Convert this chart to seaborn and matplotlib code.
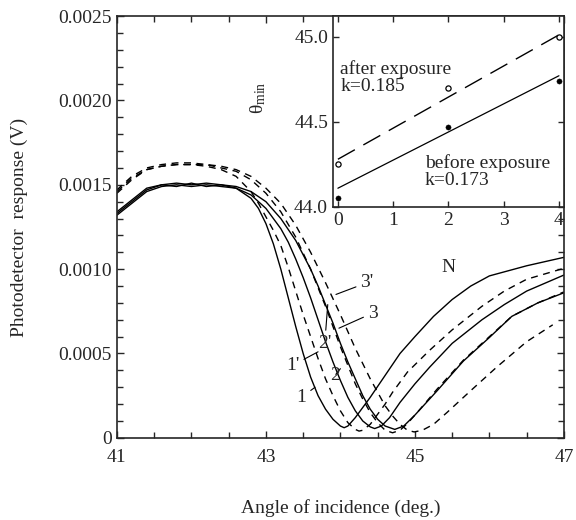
import numpy as np
import pandas as pd
import matplotlib
matplotlib.use("Agg")
import matplotlib.pyplot as plt
from matplotlib.ticker import MultipleLocator, FixedLocator, FuncFormatter
import seaborn as sns

# SPR curves: angle of incidence (deg) and photodetector response (units of 1e-4 V)
x_1 = [41.0, 41.2, 41.4, 41.6, 41.8, 42.0, 42.2, 42.4, 42.6, 42.8, 42.9, 43.0, 43.1, 43.2, 43.3, 43.4, 43.5, 43.6,
       43.7, 43.8, 43.9, 44.0, 44.05, 44.1, 44.2, 44.3, 44.4, 44.6, 44.8, 45.0, 45.25, 45.5, 45.75, 46.0, 46.5, 47.0]
y_1 = [13.3, 14.0, 14.7, 15.0, 14.9, 15.1, 14.9, 15.0, 14.8, 14.2, 13.6, 12.7, 11.5, 10.0, 8.3, 6.6, 5.0, 3.6,
       2.5, 1.7, 1.1, 0.7, 0.6, 0.7, 1.2, 1.8, 2.4, 3.7, 5.0, 6.0, 7.2, 8.2, 9.0, 9.6, 10.2, 10.7]

x_1p = [41.0, 41.2, 41.4, 41.6, 41.8, 42.0, 42.2, 42.4, 42.6, 42.8, 42.9, 43.0, 43.1, 43.2, 43.3, 43.4, 43.5, 43.6,
        43.7, 43.8, 43.9, 44.0, 44.1, 44.2, 44.25, 44.3, 44.4, 44.5, 44.6, 44.7, 44.9, 45.2, 45.5, 45.9, 46.2, 46.5, 47.0]
y_1p = [14.6, 15.4, 15.9, 16.1, 16.2, 16.2, 16.1, 15.9, 15.5, 14.6, 13.9, 13.1, 12.3, 11.4, 10.1, 8.7, 7.3, 6.0,
        4.7, 3.5, 2.5, 1.6, 0.9, 0.5, 0.4, 0.45, 0.8, 1.4, 2.0, 2.7, 3.9, 5.2, 6.4, 7.8, 8.7, 9.4, 10.05]

x_2 = [41.0, 41.2, 41.4, 41.6, 41.8, 42.0, 42.2, 42.4, 42.6, 42.8, 43.0, 43.2, 43.3, 43.4, 43.5, 43.6, 43.7, 43.8,
       43.9, 44.0, 44.1, 44.2, 44.3, 44.4, 44.46, 44.55, 44.66, 44.8, 45.0, 45.2, 45.5, 45.9, 46.2, 46.5, 47.0]
y_2 = [13.2, 13.9, 14.6, 14.9, 15.0, 14.9, 15.0, 14.9, 14.8, 14.4, 13.6, 12.4, 11.6, 10.6, 9.5, 8.3, 7.0, 5.7,
       4.5, 3.4, 2.4, 1.6, 1.0, 0.65, 0.55, 0.7, 1.2, 2.1, 3.2, 4.2, 5.6, 7.0, 7.9, 8.7, 9.65]

x_2p = [41.0, 41.2, 41.4, 41.6, 41.8, 42.0, 42.2, 42.4, 42.6, 42.8, 43.0, 43.2, 43.4, 43.6, 43.7, 43.8, 43.9, 44.0,
        44.1, 44.2, 44.3, 44.4, 44.5, 44.6, 44.7, 44.8, 44.9, 45.05, 45.3, 45.65, 46.0, 46.3, 46.65, 47.0]
y_2p = [14.5, 15.3, 15.9, 16.1, 16.2, 16.2, 16.2, 16.0, 15.8, 15.3, 14.5, 13.4, 11.9, 10.0, 8.9, 7.8, 6.6, 5.4,
        4.3, 3.2, 2.3, 1.5, 0.9, 0.45, 0.3, 0.45, 0.85, 1.6, 2.9, 4.6, 6.0, 7.2, 8.0, 8.65]

x_3 = [41.0, 41.2, 41.4, 41.6, 41.8, 42.0, 42.2, 42.4, 42.6, 42.8, 43.0, 43.2, 43.4, 43.6, 43.7, 43.8, 43.9, 44.0,
       44.1, 44.2, 44.3, 44.4, 44.5, 44.6, 44.73, 44.85, 45.0, 45.3, 45.65, 46.0, 46.3, 46.65, 47.0]
y_3 = [13.4, 14.1, 14.8, 15.0, 15.1, 15.0, 15.1, 15.0, 14.9, 14.6, 14.0, 13.0, 11.7, 10.0, 9.0, 7.9, 6.8, 5.6,
       4.5, 3.5, 2.5, 1.7, 1.1, 0.7, 0.5, 0.7, 1.35, 2.8, 4.55, 5.95, 7.2, 8.0, 8.6]

x_3p = [41.0, 41.2, 41.4, 41.6, 41.8, 42.0, 42.2, 42.4, 42.6, 42.8, 43.0, 43.2, 43.4, 43.6, 43.8, 44.0, 44.2, 44.4,
        44.6, 44.7, 44.8, 44.9, 44.99, 45.1, 45.25, 45.43, 45.75, 46.1, 46.5, 46.85]
y_3p = [14.7, 15.5, 16.0, 16.2, 16.3, 16.3, 16.2, 16.1, 15.9, 15.5, 14.8, 13.9, 12.6, 11.0, 9.2, 7.3, 5.3, 3.5,
        1.9, 1.3, 0.8, 0.45, 0.35, 0.45, 0.8, 1.5, 2.8, 4.2, 5.7, 6.7]

# inset: minimum angle vs N
n_vals = [0, 2, 4]
theta_before = [44.05, 44.47, 44.74]
theta_after = [44.25, 44.70, 45.00]
fit_n = [0, 4]
fit_before = [44.11, 44.77]
fit_after = [44.28, 45.01]

sns.set_style("ticks")
plt.rcParams['font.family'] = ['Liberation Serif', 'DejaVu Serif']
plt.rcParams['mathtext.fontset'] = 'custom'
plt.rcParams['mathtext.rm'] = 'Liberation Serif'
plt.rcParams['font.size'] = 14

fig = plt.figure(figsize=(5.76, 5.2), dpi=100)
ax = fig.add_axes([0.203, 0.158, 0.776, 0.811])

dash = (0, (5, 4))
curves = [(x_1, y_1, '-'), (x_1p, y_1p, dash), (x_2, y_2, '-'),
          (x_2p, y_2p, dash), (x_3, y_3, '-'), (x_3p, y_3p, dash)]
for xs, ys, ls in curves:
    df = pd.DataFrame({'angle': xs, 'resp': np.array(ys) * 1e-4})
    sns.lineplot(data=df, x='angle', y='resp', ax=ax, color='black', linewidth=1.0, linestyle=ls)

ax.set_xlim(41, 47)
ax.set_ylim(0, 0.0025)
ax.xaxis.set_major_locator(FixedLocator([41, 43, 45, 47]))
ax.xaxis.set_minor_locator(MultipleLocator(0.5))
ax.yaxis.set_major_locator(MultipleLocator(0.0005))
ax.yaxis.set_minor_locator(MultipleLocator(0.0001))
ax.yaxis.set_major_formatter(FuncFormatter(lambda v, p: '0' if abs(v) < 1e-9 else f'{v:.4f}'))
ax.tick_params(which='both', direction='in', top=True, right=True, width=1, labelsize=14)
ax.tick_params(which='major', length=5)
ax.tick_params(which='minor', length=4)
ax.tick_params(axis='x', pad=8)
for s in ax.spines.values():
    s.set_linewidth(1.2)
ax.set_xlabel('Angle of incidence (deg.)', fontsize=14, labelpad=24)
ax.set_ylabel('Photodetector  response (V)', fontsize=14, labelpad=22)

# curve labels
line_kw = dict(arrowstyle='-', lw=0.8, color='black', shrinkA=1, shrinkB=0)
labels = [("3'", (43.94, 0.00085), (44.27, 0.00092)),
          ("3", (43.98, 0.00065), (44.37, 0.00074)),
          ("2'", (43.83, 0.00079), (43.70, 0.00056)),
          ("1'", (43.70, 0.00051), (43.27, 0.00043)),
          ("2", (44.00, 0.00041), (43.86, 0.00037)),
          ("1", (43.66, 0.00030), (43.41, 0.00024))]
for txt, xy, xyt in labels:
    ax.annotate(txt, xy=xy, xytext=xyt, fontsize=14, ha='left', va='center', arrowprops=line_kw)

# inset
ins = fig.add_axes([0.578, 0.602, 0.401, 0.367])
sns.lineplot(x=fit_n, y=fit_after, ax=ins, color='black', linewidth=1.0, linestyle=(0, (14, 7)))
sns.lineplot(x=fit_n, y=fit_before, ax=ins, color='black', linewidth=0.9)
sns.scatterplot(x=n_vals, y=theta_after, ax=ins, s=14, facecolor='white', edgecolor='black', linewidth=0.9, zorder=3)
sns.scatterplot(x=n_vals, y=theta_before, ax=ins, s=14, color='black', edgecolor='black', zorder=3)
ins.set_xlim(-0.09, 4.09)
ins.set_ylim(44.0, 45.12)
ins.xaxis.set_major_locator(MultipleLocator(1))
ins.yaxis.set_major_locator(FixedLocator([44.0, 44.5, 45.0]))
ins.yaxis.set_major_formatter(FuncFormatter(lambda v, p: f'{v:.1f}'))
ins.tick_params(which='both', direction='in', top=True, right=True, length=4, width=1, labelsize=14)
for s in ins.spines.values():
    s.set_linewidth(1.2)
ins.set_xlabel('N', fontsize=14, labelpad=22)
ins.set_ylabel(r'$\mathregular{θ_{min}}$', fontsize=14)
ins.yaxis.set_label_coords(-0.28, 0.57)
ins.text(0.04, 44.86, 'after exposure\nk=0.185', fontsize=14, va='top', ha='left', linespacing=1.0)
ins.text(1.57, 44.31, 'before exposure\nk=0.173', fontsize=14, va='top', ha='left', linespacing=1.0)

fig.savefig('out.png', dpi=100)
